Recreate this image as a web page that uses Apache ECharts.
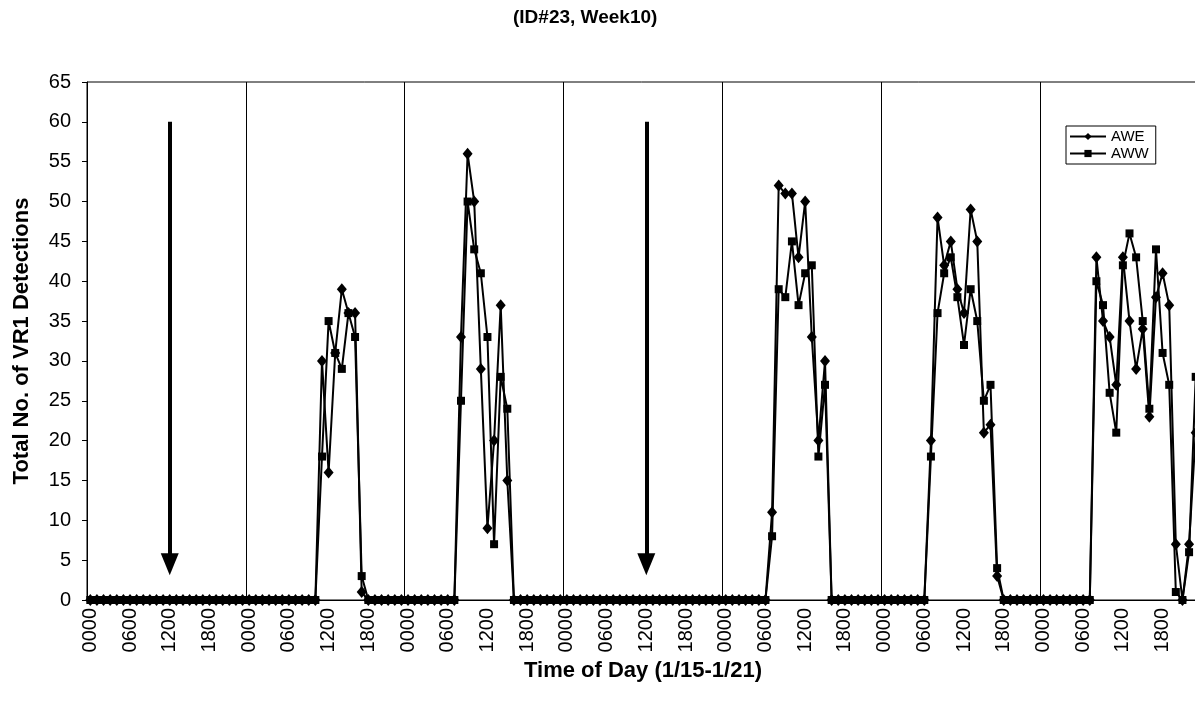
<!DOCTYPE html>
<html>
<head>
<meta charset="utf-8">
<title>VR1 Detections (ID#23, Week10)</title>
<script src="https://cdn.jsdelivr.net/npm/echarts@6/dist/echarts.min.js"></script>
<style>
  html, body { margin: 0; padding: 0; background: #fff; }
  #main { width: 1195px; height: 706px; }
</style>
</head>
<body>
<div id="main"></div>
<script>
// hour of day labels, repeated for every day (1/15 - 1/21)
const hourLabels = [
  "0000", "0100", "0200", "0300", "0400", "0500", "0600", "0700",
  "0800", "0900", "1000", "1100", "1200", "1300", "1400", "1500",
  "1600", "1700", "1800", "1900", "2000", "2100", "2200", "2300",
];
const dayCount = 7;
const yTicks = { min: 0, max: 65, step: 5 };

// AWE, one row per day (24 hourly values)
const aweData = [
  0,0,0,0,0,0,0,0,0,0,0,0,0,0,0,0,0,0,0,0,0,0,0,0,
  0,0,0,0,0,0,0,0,0,0,0,30,16,31,39,36,36,1,0,0,0,0,0,0,
  0,0,0,0,0,0,0,0,33,56,50,29,9,20,37,15,0,0,0,0,0,0,0,0,
  0,0,0,0,0,0,0,0,0,0,0,0,0,0,0,0,0,0,0,0,0,0,0,0,
  0,0,0,0,0,0,0,11,52,51,51,43,50,33,20,30,0,0,0,0,0,0,0,0,
  0,0,0,0,0,0,0,20,48,42,45,39,36,49,45,21,22,3,0,0,0,0,0,0,
  0,0,0,0,0,0,0,0,43,35,33,27,43,35,29,34,23,38,41,37,7,0,7,21,
];
// AWW, one row per day
const awwData = [
  0,0,0,0,0,0,0,0,0,0,0,0,0,0,0,0,0,0,0,0,0,0,0,0,
  0,0,0,0,0,0,0,0,0,0,0,18,35,31,29,36,33,3,0,0,0,0,0,0,
  0,0,0,0,0,0,0,0,25,50,44,41,33,7,28,24,0,0,0,0,0,0,0,0,
  0,0,0,0,0,0,0,0,0,0,0,0,0,0,0,0,0,0,0,0,0,0,0,0,
  0,0,0,0,0,0,0,8,39,38,45,37,41,42,18,27,0,0,0,0,0,0,0,0,
  0,0,0,0,0,0,0,18,36,41,43,38,32,39,35,25,27,4,0,0,0,0,0,0,
  0,0,0,0,0,0,0,0,40,37,26,21,42,46,43,35,24,44,31,27,1,0,6,28,
];

// the two down arrows (category index, top value, tip value)
const arrowIndex = [12, 84];
const arrowTop = 60;
const arrowTip = 4.5;

const fontFamily = "'Liberation Sans', Arial, sans-serif";

// x categories: hour labels for every day
const categories = [];
for (let d = 0; d < dayCount; d++) {
  hourLabels.forEach((h) => categories.push(h));
}

const chartDom = document.getElementById("main");
const myChart = echarts.init(chartDom);

const option = {
  animation: false,
  backgroundColor: "#fff",
  title: {
    text: "(ID#23, Week10)",
    left: 508,
    top: 3,
    textStyle: { fontSize: 19, fontWeight: "bold", color: "#000", fontFamily },
  },
  legend: {
    data: ["AWE", "AWW"],
    orient: "vertical",
    left: 1066,
    top: 126,
    itemWidth: 36,
    itemHeight: 9,
    itemGap: 2,
    padding: [3, 7, 3, 3],
    borderColor: "#000",
    borderWidth: 1,
    backgroundColor: "#fff",
    textStyle: { fontSize: 15, color: "#000", fontFamily },
  },
  grid: {
    left: 87,
    top: 82,
    width: 1112,
    height: 518,
    containLabel: false,
    outerBoundsMode: "none",
    show: true,
    borderColor: "#000",
    borderWidth: 1,
  },
  xAxis: {
    type: "category",
    data: categories,
    boundaryGap: true,
    name: "Time of Day (1/15-1/21)",
    nameLocation: "middle",
    nameGap: 58,
    nameTextStyle: { fontSize: 22, fontWeight: "bold", color: "#000", fontFamily },
    axisLine: { lineStyle: { color: "#000", width: 1 } },
    axisTick: { show: false },
    axisLabel: {
      interval: (index) => index % 6 === 0,
      rotate: 90,
      margin: 8,
      fontSize: 20,
      color: "#000",
      fontFamily,
    },
    splitLine: {
      show: true,
      interval: (index) => index % 24 === 0,
      lineStyle: { color: "#000", width: 1 },
    },
  },
  yAxis: {
    type: "value",
    min: yTicks.min,
    max: yTicks.max,
    interval: yTicks.step,
    name: "Total No. of VR1 Detections",
    nameLocation: "middle",
    nameGap: 54,
    nameTextStyle: { fontSize: 22, fontWeight: "bold", color: "#000", fontFamily },
    axisLine: { show: true, lineStyle: { color: "#000", width: 1 } },
    axisTick: { show: true, inside: false, length: 5, lineStyle: { color: "#000" } },
    axisLabel: { margin: 16, fontSize: 20, color: "#000", fontFamily },
    splitLine: { show: false },
  },
  series: [
    {
      name: "AWE",
      type: "line",
      data: aweData,
      symbol: "diamond",
      symbolSize: [10, 12],
      showAllSymbol: true,
      color: "#000",
      lineStyle: { color: "#000", width: 2 },
      itemStyle: { color: "#000" },
      markLine: {
        silent: true,
        animation: false,
        symbol: ["none", "triangle"],
        symbolSize: [18, 22],
        label: { show: false },
        lineStyle: { color: "#000", width: 4, type: "solid" },
        data: arrowIndex.map((i) => [
          { coord: [i, arrowTop] },
          { coord: [i, arrowTip] },
        ]),
      },
    },
    {
      name: "AWW",
      type: "line",
      data: awwData,
      symbol: "rect",
      symbolSize: 8,
      showAllSymbol: true,
      color: "#000",
      lineStyle: { color: "#000", width: 2 },
      itemStyle: { color: "#000" },
    },
  ],
};

myChart.setOption(option);
</script>
</body>
</html>
